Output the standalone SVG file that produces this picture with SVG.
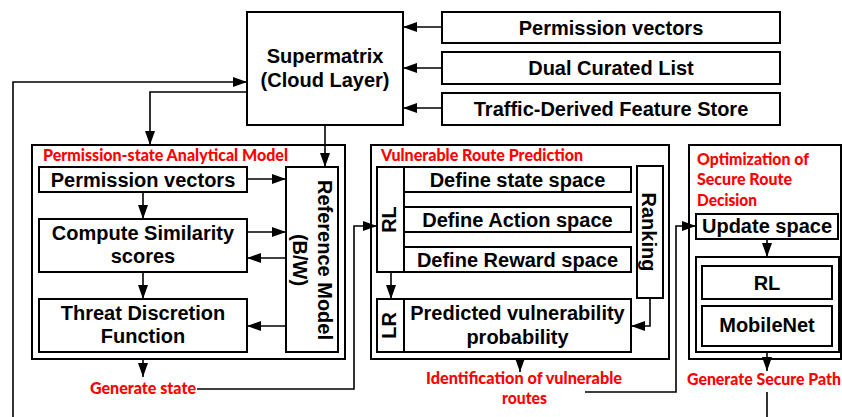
<svg xmlns="http://www.w3.org/2000/svg" width="842" height="417" viewBox="0 0 842 417">
<defs>
<style>
.box{fill:#fff;stroke:#000;stroke-width:2}
.panel{fill:none;stroke:#000;stroke-width:2}
.t{font-family:"Liberation Sans",Arial,sans-serif;font-weight:bold;font-size:20px;fill:#000;text-anchor:middle}
.r{font-family:Lato,"Liberation Sans",sans-serif;font-weight:900;font-size:16px;fill:#ff0000}
.c{fill:none;stroke:#000;stroke-width:1.6}
.a{marker-end:url(#ah)}
</style>
<marker id="ah" markerWidth="14" markerHeight="10" refX="14" refY="5" orient="auto" markerUnits="userSpaceOnUse">
<path d="M0,0 L14,5 L0,10 z" fill="#000"/>
</marker>
</defs>
<rect width="842" height="417" fill="#fff"/>

<g id="connectors">
<line class="c a" x1="442" y1="27" x2="403" y2="27"/>
<line class="c a" x1="442" y1="68" x2="403" y2="68"/>
<line class="c a" x1="442" y1="108" x2="403" y2="108"/>
<polyline class="c a" points="13,417 13,82 247,82"/>
<polyline class="c a" points="247,92 150,92 150,145"/>
<line class="c a" x1="325" y1="125" x2="325" y2="167"/>
<line class="c a" x1="247" y1="179" x2="286" y2="179"/>
<line class="c a" x1="143" y1="192" x2="143" y2="219"/>
<line class="c a" x1="247" y1="232" x2="286" y2="232"/>
<line class="c a" x1="286" y1="258" x2="247" y2="258"/>
<line class="c a" x1="143" y1="272" x2="143" y2="299"/>
<line class="c a" x1="286" y1="326" x2="247" y2="326"/>
<line class="c a" x1="143" y1="359" x2="143" y2="377"/>
<polyline class="c a" points="197,389 354,389 354,226 377,226"/>
<line class="c a" x1="391" y1="272" x2="391" y2="299"/>
<polyline class="c a" points="650,298 650,326 631,326"/>
<line class="c a" x1="520" y1="359" x2="520" y2="372"/>
<polyline class="c a" points="585,392 676,392 676,226 696,226"/>
<line class="c a" x1="767" y1="239" x2="767" y2="257"/>
<line class="c a" x1="767" y1="352" x2="767" y2="371"/>
<line class="c" x1="767" y1="392" x2="767" y2="417"/>
</g>

<g id="supermatrix">
<rect class="box" x="247" y="12" width="156" height="113"/>
<text class="t" x="325" y="63">Supermatrix</text>
<text class="t" x="325" y="87">(Cloud Layer)</text>
</g>
<g id="src-permission">
<rect class="box" x="442" y="12" width="338" height="31"/>
<text class="t" x="611" y="34.5">Permission vectors</text>
</g>
<g id="src-dual">
<rect class="box" x="442" y="52" width="338" height="32"/>
<text class="t" x="611" y="75">Dual Curated List</text>
</g>
<g id="src-traffic">
<rect class="box" x="442" y="93" width="338" height="32"/>
<text class="t" x="611" y="115.5">Traffic-Derived Feature Store</text>
</g>

<g id="panel1">
<rect class="panel" x="32" y="145" width="313" height="214"/>
<text class="r" x="43" y="160.5" textLength="245" lengthAdjust="spacingAndGlyphs">Permission-state Analytical Model</text>
</g>
<g id="p1-permission">
<rect class="box" x="39" y="167" width="208" height="25"/>
<text class="t" x="143" y="186.5">Permission vectors</text>
</g>
<g id="p1-similarity">
<rect class="box" x="39" y="219" width="208" height="53"/>
<text class="t" x="143" y="239.5">Compute Similarity</text>
<text class="t" x="143" y="263">scores</text>
</g>
<g id="p1-threat">
<rect class="box" x="39" y="299" width="208" height="53"/>
<text class="t" x="143" y="319.5">Threat Discretion</text>
<text class="t" x="143" y="343">Function</text>
</g>
<g id="p1-reference">
<rect class="box" x="286" y="167" width="52" height="185"/>
<text class="t" transform="translate(318,260) rotate(90)">Reference Model</text>
<text class="t" transform="translate(293,260) rotate(90)">(B/W)</text>
</g>
<g id="gen-state">
<text class="r" x="90" y="394" textLength="106" lengthAdjust="spacingAndGlyphs">Generate state</text>
</g>

<g id="panel2">
<rect class="panel" x="371" y="145" width="298" height="214"/>
<text class="r" x="381" y="160.5" textLength="202" lengthAdjust="spacingAndGlyphs">Vulnerable Route Prediction</text>
</g>
<g id="p2-rl">
<rect class="box" x="377" y="167" width="27" height="105"/>
<text class="t" transform="translate(396,219.5) rotate(-90)">RL</text>
</g>
<g id="p2-state">
<rect class="box" x="404" y="167" width="227" height="25"/>
<text class="t" x="517.5" y="186.5">Define state space</text>
</g>
<g id="p2-action">
<rect class="box" x="404" y="207" width="227" height="25"/>
<text class="t" x="517.5" y="226.5">Define Action space</text>
</g>
<g id="p2-reward">
<rect class="box" x="404" y="247" width="227" height="25"/>
<text class="t" x="517.5" y="266.5">Define Reward space</text>
</g>
<g id="p2-ranking">
<rect class="box" x="637" y="166" width="26" height="132"/>
<text class="t" transform="translate(642,232) rotate(90)">Ranking</text>
</g>
<g id="p2-lr">
<rect class="box" x="377" y="299" width="27" height="53"/>
<text class="t" transform="translate(396,325.5) rotate(-90)">LR</text>
</g>
<g id="p2-predicted">
<rect class="box" x="404" y="299" width="227" height="53"/>
<text class="t" x="517.5" y="320">Predicted vulnerability</text>
<text class="t" x="517.5" y="344">probability</text>
</g>
<g id="identification">
<text class="r" x="426" y="384" textLength="196" lengthAdjust="spacingAndGlyphs">Identification of vulnerable</text>
<text class="r" x="502" y="404" textLength="45" lengthAdjust="spacingAndGlyphs">routes</text>
</g>

<g id="panel3">
<rect class="panel" x="689" y="145" width="152" height="214"/>
<text class="r" x="697" y="164.5" textLength="112" lengthAdjust="spacingAndGlyphs">Optimization of</text>
<text class="r" x="697" y="185" textLength="95" lengthAdjust="spacingAndGlyphs">Secure Route</text>
<text class="r" x="697" y="205.5" textLength="60" lengthAdjust="spacingAndGlyphs">Decision</text>
</g>
<g id="p3-update">
<rect class="box" x="696" y="214" width="142" height="25"/>
<text class="t" x="767" y="233">Update space</text>
</g>
<g id="p3-container">
<rect class="box" x="696" y="257" width="143" height="95"/>
</g>
<g id="p3-rl">
<rect class="box" x="702" y="266" width="130" height="33"/>
<text class="t" x="767" y="290">RL</text>
</g>
<g id="p3-mobilenet">
<rect class="box" x="702" y="306" width="130" height="40"/>
<text class="t" x="767" y="332">MobileNet</text>
</g>
<g id="gen-path">
<text class="r" x="687" y="385" textLength="154" lengthAdjust="spacingAndGlyphs">Generate Secure Path</text>
</g>
</svg>
